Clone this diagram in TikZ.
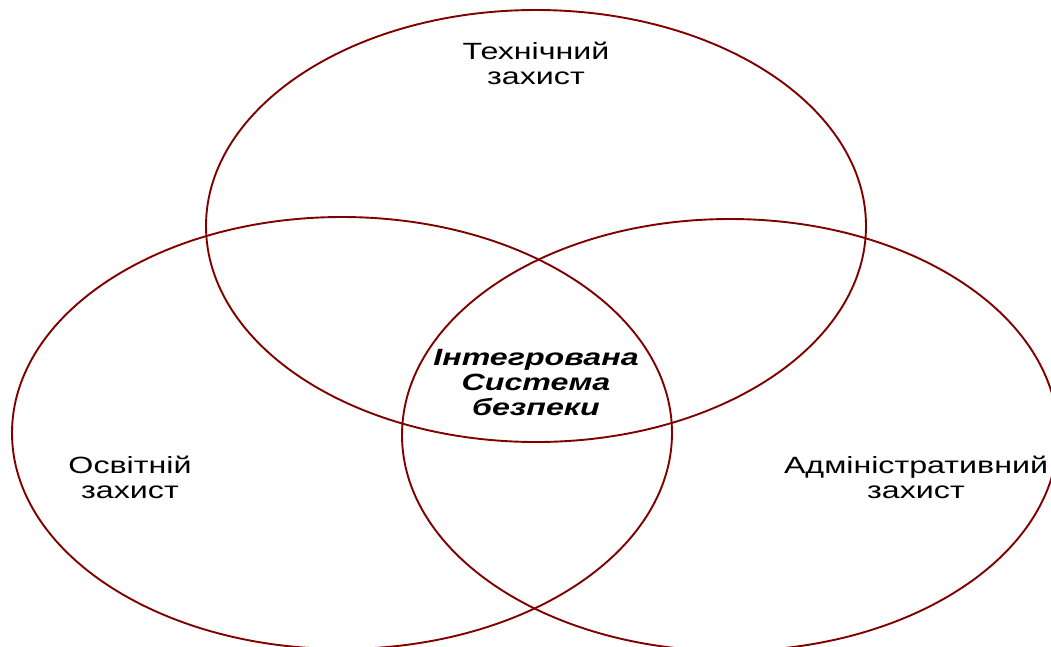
\documentclass[tikz,border=0pt]{standalone}
\usepackage{fontspec}
\setmainfont{Liberation Sans}
\newfontfamily\widefont[FakeStretch=1.37]{Liberation Sans}
\usetikzlibrary{positioning}
\definecolor{ringred}{RGB}{128,0,0}
\tikzset{
  ring/.style={draw=ringred, line width=1.9pt},
  lbl/.style={align=center, font=\widefont\fontsize{23.5}{25}\selectfont, inner sep=0pt},
  core/.style={align=center, font=\widefont\fontsize{23.5}{25}\selectfont\bfseries\itshape, inner sep=0pt}
}
\begin{document}
\begin{tikzpicture}[x=1pt,y=-1pt]
            \useasboundingbox (0,0) rectangle (1051,646);
            \coordinate (T) at (536,226);
            \coordinate (L) at (342,433);
            \coordinate (R) at (730,435);
            \draw[ring] (T) ellipse [x radius=330, y radius=216];
            \draw[ring] (L) ellipse [x radius=330, y radius=216];
            \draw[ring] (R) ellipse [x radius=328, y radius=216];
            \node[lbl] (tech) at (536,63) {Технічний\\захист};
            \node[lbl] (osv) at (130,477) {Освітній\\захист};
            \node[lbl] (adm) at (916,477) {Адміністративний\\захист};
            \node[core] (isb) at (536,383) {Інтегрована\\Система\\безпеки};
        \end{tikzpicture}
\end{document}
